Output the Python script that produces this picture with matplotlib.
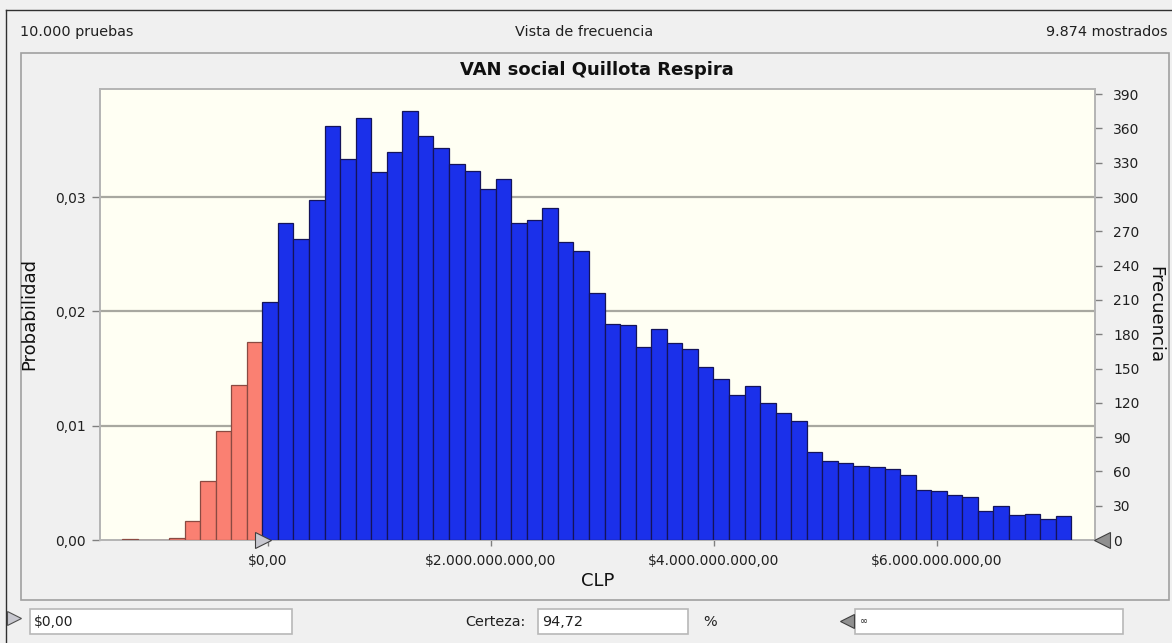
import numpy as np
import matplotlib
matplotlib.use("Agg")
import matplotlib.pyplot as plt
from matplotlib.patches import Rectangle
from matplotlib.transforms import offset_copy

# histogram
n_trials = 10000
n_shown = 9874
certainty = 94.72
bin_lo = -1.306e9      # left edge of first bin (CLP)
bin_width = 1.395e8    # bin width (CLP)
counts = [1, 0, 0, 2, 17, 52, 95, 136, 173,
          208, 277, 263, 297, 362, 333, 369, 322, 339, 375, 353, 343, 329,
          323, 307, 316, 277, 280, 290, 261, 253, 216, 189, 188, 169, 185,
          172, 167, 151, 141, 127, 135, 120, 111, 104, 77, 69, 67, 65, 64,
          62, 57, 44, 43, 39, 38, 25, 30, 22, 23, 18, 21]
lower_bound = 0.0

x_ticks = [0, 2e9, 4e9, 6e9]
x_labels = ["$0,00", "$2.000.000.000,00", "$4.000.000.000,00", "$6.000.000.000,00"]
freq_ticks = list(range(0, 391, 30))
prob_ticks = [0.0, 0.01, 0.02, 0.03]

W, H = 1172, 643
bg = "#F0F0F0"
blue = "#1B30EA"
salmon = "#FA8072"

fig = plt.figure(figsize=(W / 100, H / 100), dpi=100, facecolor=bg)

# overlay in pixel coords for the window chrome
ov = fig.add_axes([0, 0, 1, 1])
ov.set_xlim(0, W)
ov.set_ylim(H, 0)
ov.axis("off")
ov.plot([6, W], [10, 10], color="#303030", lw=1)
ov.plot([6, 6], [10, H], color="#303030", lw=1)
ov.add_patch(Rectangle((20.5, 53), 1148, 547, fill=False, ec="#A0A0A0", lw=1.2))
ov.text(20, 32, f"{n_trials:,}".replace(",", ".") + " pruebas", fontsize=10.4, va="center", ha="left", color="#202020")
ov.text(584, 32, "Vista de frecuencia", fontsize=10.4, va="center", ha="center", color="#202020")
ov.text(1168, 32, f"{n_shown:,}".replace(",", ".") + " mostrados", fontsize=10.4, va="center", ha="right", color="#202020")

# bottom controls
for x0, x1 in [(30, 292), (538, 688), (855, 1123)]:
    ov.add_patch(Rectangle((x0, 609), x1 - x0, 25, fc="white", ec="#B8B8B8", lw=1.2))
ov.text(34, 621.5, "$0,00", fontsize=10, va="center", ha="left", color="#202020")
ov.text(525, 621.5, "Certeza:", fontsize=10.4, va="center", ha="right", color="#202020")
ov.text(542, 621.5, f"{certainty:.2f}".replace(".", ","), fontsize=10.4, va="center", ha="left", color="#202020")
ov.text(703, 621.5, "%", fontsize=10.4, va="center", ha="left", color="#202020")
ov.text(860, 621.5, "∞", fontsize=7, va="center", ha="left", color="#202020")
ov.plot(14, 618, marker=">", ms=10, mfc="#C8C8D0", mec="#505050", mew=0.8)
ov.plot(847, 621, marker="<", ms=10, mfc="#909090", mec="#404040", mew=0.8)

ov.text(597, 70, "VAN social Quillota Respira", fontsize=13, fontweight="bold", ha="center", va="center", color="#101010")

# main histogram
ax = fig.add_axes([100 / W, (H - 540) / H, 995 / W, 451 / H])
ax.set_facecolor("#FFFFF3")
edges = bin_lo + bin_width * np.arange(len(counts) + 1)
centers = edges[:-1] + bin_width / 2
colors = [salmon if c < lower_bound else blue for c in centers]
ecols = ["#8A4A42" if c < lower_bound else "#14145A" for c in centers]
ax.bar(edges[:-1], counts, width=bin_width, align="edge", color=colors,
       edgecolor=ecols, linewidth=0.9, zorder=3)
for p in prob_ticks[1:]:
    ax.axhline(p * n_trials, color="#A8A8A0", lw=1.6, zorder=1)

ax.set_xlim(-1.5067e9, 7.417e9)
ax.set_ylim(0, 394.5)
for s in ax.spines.values():
    s.set_color("#B4B4B4")
    s.set_linewidth(1.4)

ax.set_xticks(x_ticks)
ax.set_xticklabels(x_labels)
ax.tick_params(axis="x", length=4, width=1, color="#808080", labelsize=10, pad=6, labelcolor="#202020")
ax.set_xlabel("CLP", fontsize=13, labelpad=3, color="#101010")

ax.yaxis.tick_right()
ax.set_yticks(freq_ticks)
ax.tick_params(axis="y", length=5, width=1, color="#808080", labelsize=10, pad=8, labelcolor="#202020")
ax.yaxis.set_label_position("right")
ax.set_ylabel("Frecuencia", fontsize=13, rotation=-90, labelpad=18, color="#101010")

sec = ax.secondary_yaxis("left", functions=(lambda c: c / n_trials, lambda p: p * n_trials))
sec.set_yticks(prob_ticks)
sec.set_yticklabels([f"{p:.2f}".replace(".", ",") for p in prob_ticks])
sec.tick_params(length=6, width=1, color="#808080", labelsize=10, pad=4, labelcolor="#202020")
sec.spines["left"].set_visible(False)
sec.set_ylabel("Probabilidad", fontsize=13, labelpad=12, color="#101010")

# certainty range markers
tr = offset_copy(ax.get_xaxis_transform(), fig=fig, x=-5, y=0, units="dots")
ax.plot([lower_bound], [0], marker=">", ms=12, mfc="#C8C8D0", mec="#404040", mew=0.8,
        transform=tr, clip_on=False, zorder=5)
tr2 = offset_copy(ax.transAxes, fig=fig, x=7, y=0, units="dots")
ax.plot([1], [0], marker="<", ms=12, mfc="#909090", mec="#404040", mew=0.8,
        transform=tr2, clip_on=False, zorder=5)

fig.savefig("out.png", dpi=100, facecolor=bg)
